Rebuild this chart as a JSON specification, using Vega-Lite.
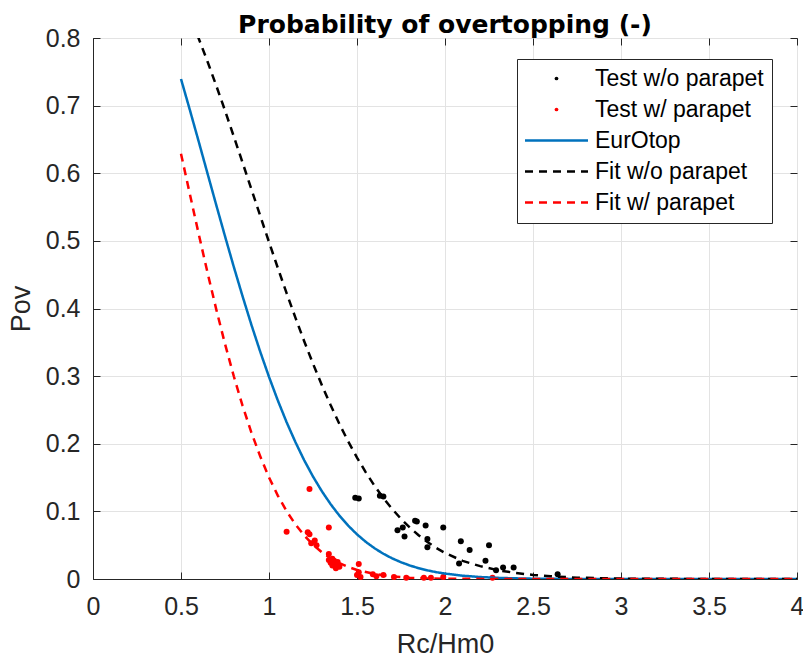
{
  "$schema": "https://vega.github.io/schema/vega-lite/v6.json",
  "width": 704,
  "height": 541,
  "autosize": {"type": "none"},
  "padding": {"left": 93, "top": 38, "right": 6, "bottom": 91},
  "background": "white",
  "title": {"text": "Probability of overtopping (-)", "font": "DejaVu Sans", "fontSize": 25, "fontWeight": "bold", "color": "#000000", "anchor": "middle", "offset": -12},
  "config": {
    "view": {"stroke": "#262626", "strokeWidth": 1},
    "axis": {
      "domainColor": "#262626", "tickColor": "#262626", "labelColor": "#262626", "titleColor": "#262626",
      "labelFont": "Liberation Sans", "titleFont": "Liberation Sans", "labelFontSize": 25, "titleFontSize": 27,
      "titleFontWeight": "normal", "gridColor": "#e3e3e3", "gridOpacity": 1, "tickSize": -7, "domainWidth": 1,
      "labelFlush": false
    }
  },
  "datasets": {
    "pts": [
      {"x": 1.49, "y": 0.120, "series": "Test w/o parapet"},
      {"x": 1.51, "y": 0.119, "series": "Test w/o parapet"},
      {"x": 1.63, "y": 0.123, "series": "Test w/o parapet"},
      {"x": 1.65, "y": 0.122, "series": "Test w/o parapet"},
      {"x": 1.73, "y": 0.072, "series": "Test w/o parapet"},
      {"x": 1.76, "y": 0.076, "series": "Test w/o parapet"},
      {"x": 1.77, "y": 0.063, "series": "Test w/o parapet"},
      {"x": 1.83, "y": 0.086, "series": "Test w/o parapet"},
      {"x": 1.84, "y": 0.085, "series": "Test w/o parapet"},
      {"x": 1.89, "y": 0.079, "series": "Test w/o parapet"},
      {"x": 1.90, "y": 0.059, "series": "Test w/o parapet"},
      {"x": 1.90, "y": 0.047, "series": "Test w/o parapet"},
      {"x": 1.99, "y": 0.076, "series": "Test w/o parapet"},
      {"x": 2.08, "y": 0.023, "series": "Test w/o parapet"},
      {"x": 2.09, "y": 0.056, "series": "Test w/o parapet"},
      {"x": 2.14, "y": 0.043, "series": "Test w/o parapet"},
      {"x": 2.25, "y": 0.050, "series": "Test w/o parapet"},
      {"x": 2.23, "y": 0.027, "series": "Test w/o parapet"},
      {"x": 2.29, "y": 0.013, "series": "Test w/o parapet"},
      {"x": 2.33, "y": 0.017, "series": "Test w/o parapet"},
      {"x": 2.39, "y": 0.017, "series": "Test w/o parapet"},
      {"x": 2.64, "y": 0.007, "series": "Test w/o parapet"},
      {"x": 1.10, "y": 0.070, "series": "Test w/ parapet"},
      {"x": 1.23, "y": 0.133, "series": "Test w/ parapet"},
      {"x": 1.22, "y": 0.069, "series": "Test w/ parapet"},
      {"x": 1.23, "y": 0.066, "series": "Test w/ parapet"},
      {"x": 1.24, "y": 0.053, "series": "Test w/ parapet"},
      {"x": 1.26, "y": 0.057, "series": "Test w/ parapet"},
      {"x": 1.27, "y": 0.050, "series": "Test w/ parapet"},
      {"x": 1.34, "y": 0.076, "series": "Test w/ parapet"},
      {"x": 1.34, "y": 0.037, "series": "Test w/ parapet"},
      {"x": 1.34, "y": 0.028, "series": "Test w/ parapet"},
      {"x": 1.35, "y": 0.024, "series": "Test w/ parapet"},
      {"x": 1.36, "y": 0.030, "series": "Test w/ parapet"},
      {"x": 1.36, "y": 0.020, "series": "Test w/ parapet"},
      {"x": 1.37, "y": 0.027, "series": "Test w/ parapet"},
      {"x": 1.38, "y": 0.022, "series": "Test w/ parapet"},
      {"x": 1.38, "y": 0.016, "series": "Test w/ parapet"},
      {"x": 1.39, "y": 0.025, "series": "Test w/ parapet"},
      {"x": 1.40, "y": 0.018, "series": "Test w/ parapet"},
      {"x": 1.51, "y": 0.022, "series": "Test w/ parapet"},
      {"x": 1.50, "y": 0.006, "series": "Test w/ parapet"},
      {"x": 1.51, "y": 0.010, "series": "Test w/ parapet"},
      {"x": 1.52, "y": 0.003, "series": "Test w/ parapet"},
      {"x": 1.59, "y": 0.007, "series": "Test w/ parapet"},
      {"x": 1.61, "y": 0.004, "series": "Test w/ parapet"},
      {"x": 1.65, "y": 0.006, "series": "Test w/ parapet"},
      {"x": 1.71, "y": 0.003, "series": "Test w/ parapet"},
      {"x": 1.78, "y": 0.002, "series": "Test w/ parapet"},
      {"x": 1.88, "y": 0.002, "series": "Test w/ parapet"},
      {"x": 1.92, "y": 0.002, "series": "Test w/ parapet"},
      {"x": 1.99, "y": 0.003, "series": "Test w/ parapet"},
      {"x": 2.27, "y": 0.002, "series": "Test w/ parapet"}
    ],
    "lines": [
      {"x": 0.5, "y": 0.7394, "series": "EurOtop"},
      {"x": 0.55, "y": 0.6939, "series": "EurOtop"},
      {"x": 0.6, "y": 0.6474, "series": "EurOtop"},
      {"x": 0.65, "y": 0.6003, "series": "EurOtop"},
      {"x": 0.7, "y": 0.5533, "series": "EurOtop"},
      {"x": 0.75, "y": 0.5069, "series": "EurOtop"},
      {"x": 0.8, "y": 0.4616, "series": "EurOtop"},
      {"x": 0.85, "y": 0.4179, "series": "EurOtop"},
      {"x": 0.9, "y": 0.3759, "series": "EurOtop"},
      {"x": 0.95, "y": 0.3362, "series": "EurOtop"},
      {"x": 1.0, "y": 0.2989, "series": "EurOtop"},
      {"x": 1.05, "y": 0.2641, "series": "EurOtop"},
      {"x": 1.1, "y": 0.2319, "series": "EurOtop"},
      {"x": 1.15, "y": 0.2025, "series": "EurOtop"},
      {"x": 1.2, "y": 0.1756, "series": "EurOtop"},
      {"x": 1.25, "y": 0.1515, "series": "EurOtop"},
      {"x": 1.3, "y": 0.1299, "series": "EurOtop"},
      {"x": 1.35, "y": 0.1107, "series": "EurOtop"},
      {"x": 1.4, "y": 0.0937, "series": "EurOtop"},
      {"x": 1.45, "y": 0.0789, "series": "EurOtop"},
      {"x": 1.5, "y": 0.0660, "series": "EurOtop"},
      {"x": 1.55, "y": 0.0549, "series": "EurOtop"},
      {"x": 1.6, "y": 0.0454, "series": "EurOtop"},
      {"x": 1.65, "y": 0.0373, "series": "EurOtop"},
      {"x": 1.7, "y": 0.0305, "series": "EurOtop"},
      {"x": 1.75, "y": 0.0248, "series": "EurOtop"},
      {"x": 1.8, "y": 0.0200, "series": "EurOtop"},
      {"x": 1.85, "y": 0.0160, "series": "EurOtop"},
      {"x": 1.9, "y": 0.0128, "series": "EurOtop"},
      {"x": 1.95, "y": 0.0101, "series": "EurOtop"},
      {"x": 2.0, "y": 0.0080, "series": "EurOtop"},
      {"x": 2.1, "y": 0.0049, "series": "EurOtop"},
      {"x": 2.2, "y": 0.0029, "series": "EurOtop"},
      {"x": 2.3, "y": 0.0017, "series": "EurOtop"},
      {"x": 2.4, "y": 0.0010, "series": "EurOtop"},
      {"x": 2.5, "y": 0.0005, "series": "EurOtop"},
      {"x": 2.75, "y": 0.0001, "series": "EurOtop"},
      {"x": 3.0, "y": 0.0, "series": "EurOtop"},
      {"x": 3.5, "y": 0.0, "series": "EurOtop"},
      {"x": 4.0, "y": 0.0, "series": "EurOtop"},
      {"x": 0.5, "y": 0.8616, "series": "Fit w/o parapet"},
      {"x": 0.55, "y": 0.8318, "series": "Fit w/o parapet"},
      {"x": 0.6, "y": 0.7997, "series": "Fit w/o parapet"},
      {"x": 0.65, "y": 0.7656, "series": "Fit w/o parapet"},
      {"x": 0.7, "y": 0.7298, "series": "Fit w/o parapet"},
      {"x": 0.75, "y": 0.6927, "series": "Fit w/o parapet"},
      {"x": 0.8, "y": 0.6544, "series": "Fit w/o parapet"},
      {"x": 0.85, "y": 0.6156, "series": "Fit w/o parapet"},
      {"x": 0.9, "y": 0.5764, "series": "Fit w/o parapet"},
      {"x": 0.95, "y": 0.5372, "series": "Fit w/o parapet"},
      {"x": 1.0, "y": 0.4983, "series": "Fit w/o parapet"},
      {"x": 1.05, "y": 0.4600, "series": "Fit w/o parapet"},
      {"x": 1.1, "y": 0.4227, "series": "Fit w/o parapet"},
      {"x": 1.15, "y": 0.3865, "series": "Fit w/o parapet"},
      {"x": 1.2, "y": 0.3516, "series": "Fit w/o parapet"},
      {"x": 1.25, "y": 0.3184, "series": "Fit w/o parapet"},
      {"x": 1.3, "y": 0.2869, "series": "Fit w/o parapet"},
      {"x": 1.35, "y": 0.2572, "series": "Fit w/o parapet"},
      {"x": 1.4, "y": 0.2293, "series": "Fit w/o parapet"},
      {"x": 1.45, "y": 0.2035, "series": "Fit w/o parapet"},
      {"x": 1.5, "y": 0.1796, "series": "Fit w/o parapet"},
      {"x": 1.55, "y": 0.1577, "series": "Fit w/o parapet"},
      {"x": 1.6, "y": 0.1377, "series": "Fit w/o parapet"},
      {"x": 1.65, "y": 0.1197, "series": "Fit w/o parapet"},
      {"x": 1.7, "y": 0.1035, "series": "Fit w/o parapet"},
      {"x": 1.75, "y": 0.0890, "series": "Fit w/o parapet"},
      {"x": 1.8, "y": 0.0761, "series": "Fit w/o parapet"},
      {"x": 1.85, "y": 0.0647, "series": "Fit w/o parapet"},
      {"x": 1.9, "y": 0.0547, "series": "Fit w/o parapet"},
      {"x": 1.95, "y": 0.0460, "series": "Fit w/o parapet"},
      {"x": 2.0, "y": 0.0385, "series": "Fit w/o parapet"},
      {"x": 2.1, "y": 0.0268, "series": "Fit w/o parapet"},
      {"x": 2.2, "y": 0.0190, "series": "Fit w/o parapet"},
      {"x": 2.3, "y": 0.0130, "series": "Fit w/o parapet"},
      {"x": 2.4, "y": 0.0090, "series": "Fit w/o parapet"},
      {"x": 2.5, "y": 0.0060, "series": "Fit w/o parapet"},
      {"x": 2.6, "y": 0.0040, "series": "Fit w/o parapet"},
      {"x": 2.75, "y": 0.0020, "series": "Fit w/o parapet"},
      {"x": 3.0, "y": 0.0006, "series": "Fit w/o parapet"},
      {"x": 3.5, "y": 0.0, "series": "Fit w/o parapet"},
      {"x": 4.0, "y": 0.0, "series": "Fit w/o parapet"},
      {"x": 0.5, "y": 0.6289, "series": "Fit w/ parapet"},
      {"x": 0.55, "y": 0.5696, "series": "Fit w/ parapet"},
      {"x": 0.6, "y": 0.5108, "series": "Fit w/ parapet"},
      {"x": 0.65, "y": 0.4538, "series": "Fit w/ parapet"},
      {"x": 0.7, "y": 0.3991, "series": "Fit w/ parapet"},
      {"x": 0.75, "y": 0.3477, "series": "Fit w/ parapet"},
      {"x": 0.8, "y": 0.2998, "series": "Fit w/ parapet"},
      {"x": 0.85, "y": 0.2561, "series": "Fit w/ parapet"},
      {"x": 0.9, "y": 0.2165, "series": "Fit w/ parapet"},
      {"x": 0.95, "y": 0.1814, "series": "Fit w/ parapet"},
      {"x": 1.0, "y": 0.1503, "series": "Fit w/ parapet"},
      {"x": 1.05, "y": 0.1234, "series": "Fit w/ parapet"},
      {"x": 1.1, "y": 0.1003, "series": "Fit w/ parapet"},
      {"x": 1.15, "y": 0.0808, "series": "Fit w/ parapet"},
      {"x": 1.2, "y": 0.0644, "series": "Fit w/ parapet"},
      {"x": 1.25, "y": 0.0507, "series": "Fit w/ parapet"},
      {"x": 1.3, "y": 0.0397, "series": "Fit w/ parapet"},
      {"x": 1.35, "y": 0.0307, "series": "Fit w/ parapet"},
      {"x": 1.4, "y": 0.0235, "series": "Fit w/ parapet"},
      {"x": 1.45, "y": 0.0178, "series": "Fit w/ parapet"},
      {"x": 1.5, "y": 0.0134, "series": "Fit w/ parapet"},
      {"x": 1.6, "y": 0.0073, "series": "Fit w/ parapet"},
      {"x": 1.7, "y": 0.0038, "series": "Fit w/ parapet"},
      {"x": 1.8, "y": 0.0019, "series": "Fit w/ parapet"},
      {"x": 1.9, "y": 0.0009, "series": "Fit w/ parapet"},
      {"x": 2.0, "y": 0.0004, "series": "Fit w/ parapet"},
      {"x": 2.25, "y": 0.0001, "series": "Fit w/ parapet"},
      {"x": 2.5, "y": 0.0, "series": "Fit w/ parapet"},
      {"x": 3.0, "y": 0.0, "series": "Fit w/ parapet"},
      {"x": 3.5, "y": 0.0, "series": "Fit w/ parapet"},
      {"x": 4.0, "y": 0.0, "series": "Fit w/ parapet"}
    ]
  },
  "layer": [
    {
      "data": {"name": "pts"},
      "mark": {"type": "point", "filled": true, "size": 36, "opacity": 1},
      "encoding": {
        "x": {"field": "x", "type": "quantitative", "scale": {"domain": [0, 4], "nice": false},
              "axis": {"orient": "top", "labels": false, "domain": false, "grid": false, "title": null, "values": [0, 0.5, 1, 1.5, 2, 2.5, 3, 3.5, 4]}},
        "y": {"field": "y", "type": "quantitative", "scale": {"domain": [0, 0.8], "nice": false},
              "axis": {"orient": "right", "labels": false, "domain": false, "grid": false, "title": null, "values": [0, 0.1, 0.2, 0.3, 0.4, 0.5, 0.6, 0.7, 0.8]}},
        "color": {"field": "series", "type": "nominal"}
      }
    },
    {
      "data": {"name": "lines"},
      "mark": {"type": "line", "strokeWidth": 2.5, "clip": true},
      "encoding": {
        "x": {"field": "x", "type": "quantitative", "scale": {"domain": [0, 4], "nice": false},
              "axis": {"title": "Rc/Hm0", "values": [0, 0.5, 1, 1.5, 2, 2.5, 3, 3.5, 4], "format": "~g", "labelPadding": 22, "titlePadding": 12, "grid": true}},
        "y": {"field": "y", "type": "quantitative", "scale": {"domain": [0, 0.8], "nice": false},
              "axis": {"title": "Pov", "values": [0, 0.1, 0.2, 0.3, 0.4, 0.5, 0.6, 0.7, 0.8], "format": "~g", "labelPadding": 20, "titlePadding": 10, "grid": true}},
        "color": {
          "field": "series", "type": "nominal",
          "scale": {"domain": ["Test w/o parapet", "Test w/ parapet", "EurOtop", "Fit w/o parapet", "Fit w/ parapet"],
                    "range": ["#000000", "#FF0000", "#0072BD", "#000000", "#FF0000"]},
          "legend": {
            "orient": "none", "legendX": 424, "legendY": 21, "title": null,
            "fillColor": "white", "strokeColor": "#262626", "padding": 8, "cornerRadius": 0,
            "labelFont": "Liberation Sans", "labelFontSize": 23, "labelColor": "#000000", "labelLimit": 400,
            "symbolSize": 400, "rowPadding": 7, "symbolOffset": 20, "labelOffset": 27, "symbolStrokeWidth": 2.5,
            "encode": {
              "symbols": {
                "update": {
                  "shape": {"signal": "indexof(['Test w/o parapet','Test w/ parapet'], datum.value) >= 0 ? 'circle' : 'stroke'"},
                  "size": {"signal": "indexof(['Test w/o parapet','Test w/ parapet'], datum.value) >= 0 ? 14 : 3969"},
                  "strokeDash": {"signal": "indexof(['Fit w/o parapet','Fit w/ parapet'], datum.value) >= 0 ? [8, 6] : [1, 0]"},
                  "fill": {"signal": "indexof(['Test w/o parapet','Test w/ parapet'], datum.value) >= 0 ? scale('color', datum.value) : 'transparent'"},
                  "stroke": {"signal": "scale('color', datum.value)"},
                  "strokeWidth": {"signal": "indexof(['Test w/o parapet','Test w/ parapet'], datum.value) >= 0 ? 0 : 2.5"},
                  "opacity": {"value": 1}
                }
              }
            }
          }
        },
        "strokeDash": {"field": "series", "type": "nominal",
                       "scale": {"domain": ["EurOtop", "Fit w/o parapet", "Fit w/ parapet"], "range": [[1, 0], [8, 6], [8, 6]]},
                       "legend": null}
      }
    }
  ],
  "resolve": {"axis": {"x": "independent", "y": "independent"}}
}
